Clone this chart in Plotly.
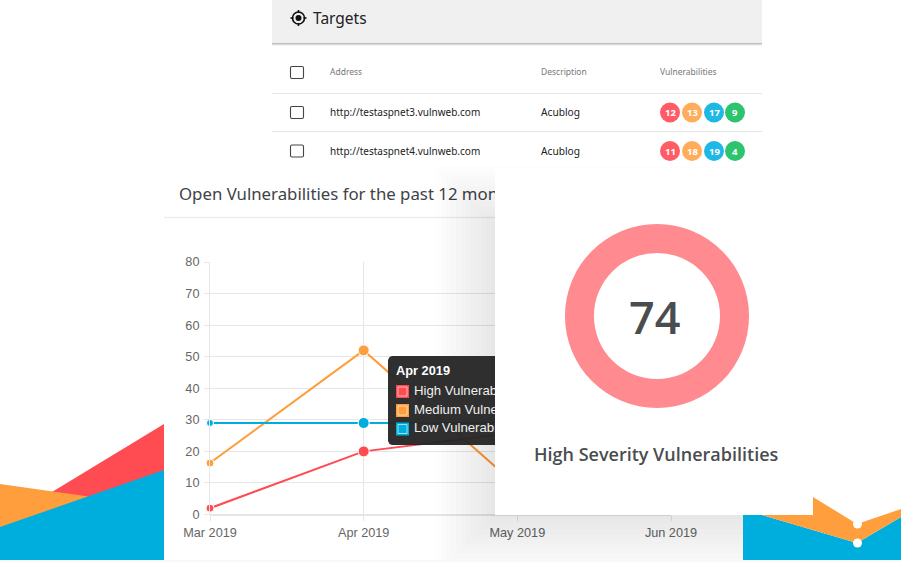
import plotly.graph_objects as go

# chart data
months = ["Mar 2019", "Apr 2019", "May 2019", "Jun 2019"]
high_vuln = [2, 20, 26, 30]
medium_vuln = [16.3, 52, 9, 12]
low_vuln = [29, 29, 29, 29]
severity_count = [74]

# table above the chart
table_headers = ["Address", "Description", "Vulnerabilities"]
row_address = ["http://testaspnet3.vulnweb.com", "http://testaspnet4.vulnweb.com"]
row_description = ["Acublog", "Acublog"]
row_badges = [[12, 13, 17, 9], [11, 18, 19, 4]]

tooltip_title = "Apr 2019"
tooltip_rows = ["High Vulnerabilities", "Medium Vulnerabilities", "Low Vulnerabilities"]

RED = "#ff4b52"
ORANGE = "#ff9e3d"
BLUE = "#00aedd"
BADGE_COLORS = ["#ff5c66", "#ffad5c", "#1fb8e6", "#2dc46e"]
W, H = 901, 562
UI_FONT = "Noto Sans"
CHART_FONT = "Liberation Sans"


def P(x, y):
    # pixel point to paper coordinates, as svg text
    return f"{x / W:.5f},{1 - y / H:.5f}"


def poly(*pts):
    return "M" + " L".join(P(x, y) for x, y in pts) + " Z"


def overlay_poly(xs, ys, color):
    return go.Scatter(x=xs, y=ys, xaxis="x2", yaxis="y2", mode="lines", line=dict(width=0),
                      fill="toself", fillcolor=color, hoverinfo="skip", showlegend=False)


def overlay_fill(x0, y0, x1, y1, color):
    return overlay_poly([x0, x1, x1, x0, x0], [y0, y0, y1, y1, y0], color)


def overlay_text(x, y, text, size, color, font=UI_FONT):
    return go.Scatter(x=[x], y=[y], xaxis="x2", yaxis="y2", mode="text", text=[text],
                      textposition="middle right", textfont=dict(size=size, color=color, family=font),
                      hoverinfo="skip", showlegend=False)


shapes = []
notes = []


def px_path(path, **kw):
    shapes.append(dict(type="path", xref="paper", yref="paper", layer="below", path=path, **kw))


def px_box(kind, x0, y0, x1, y1, **kw):
    shapes.append(dict(type=kind, xref="paper", yref="paper", layer="below", x0=x0 / W, x1=x1 / W,
                       y0=1 - y0 / H, y1=1 - y1 / H, **kw))


def note(x, y, text, size, color, anchor="left", font=UI_FONT, weight=None):
    f = dict(size=size, color=color, family=font)
    if weight:
        f["weight"] = weight
    # annotations carry a small pad on the left
    if anchor == "left":
        x -= 2
    notes.append(dict(xref="x2", yref="y2", x=x, y=y, text=text, showarrow=False, xanchor=anchor,
                      yanchor="middle", font=f))


# background wedges, left side
px_path(poly((52, 492), (164, 424), (164, 500), (52, 520)), fillcolor=RED, line_width=0)
px_path(poly((0, 484), (92, 497), (0, 528)), fillcolor=ORANGE, line_width=0)
px_path(poly((0, 527), (164, 470), (164, 560), (0, 560)), fillcolor=BLUE, line_width=0)
# and right side
px_path(poly((743, 515), (762, 515), (857, 543), (901, 517), (901, 560), (743, 560)), fillcolor=BLUE, line_width=0)
px_path(poly((762, 515), (813, 515), (813, 497), (857, 524), (901, 509), (901, 517), (857, 543)),
        fillcolor=ORANGE, line_width=0)
for cy in [524, 543]:
    px_box("circle", 853, cy - 4.5, 862, cy + 4.5, fillcolor="white", line_width=0)
px_box("rect", 0, 560, W, H, fillcolor="#f4f8fa", line_width=0)

# targets table
px_box("rect", 272, 0, 762, 43, fillcolor="#f0f0f0", line_width=0)
for i, c in enumerate(["#bdbdbd", "#dddddd", "#f3f3f3"]):
    px_box("rect", 272, 43 + i, 762, 44 + i, fillcolor=c, line_width=0)
px_box("circle", 292.5, 12, 304.5, 24, line=dict(color="#111", width=1.6))
px_box("circle", 295.5, 15, 301.5, 21, fillcolor="#111", line_width=0)
for a, b, c, d in [(298.5, 10, 298.5, 13), (298.5, 23, 298.5, 26), (290.5, 18, 293.5, 18), (303.5, 18, 306.5, 18)]:
    px_box("line", a, b, c, d, line=dict(color="#111", width=1.6))
note(313, 18, "Targets", 15.5, "#222")

for hdr, hx in zip(table_headers, [330, 541, 660]):
    note(hx, 71.5, hdr, 8.5, "#777")
row_y = [112.5, 151]
for cy in [72.5] + row_y:
    t, b = cy - 6, cy + 6
    px_path("M{} L{} Q{} {} L{} Q{} {} L{} Q{} {} L{} Q{} {} Z".format(
        P(292, t), P(302, t), P(303.5, t), P(303.5, t + 1.5), P(303.5, b - 1.5), P(303.5, b), P(302, b),
        P(292, b), P(290.5, b), P(290.5, b - 1.5), P(290.5, t + 1.5), P(290.5, t), P(292, t)),
        line=dict(color="#444", width=1.1), fillcolor="white")
for ly in [93.5, 131.5]:
    px_box("line", 272, ly, 762, ly, line=dict(color="#e6e6e6", width=1))
for addr, desc, cy in zip(row_address, row_description, row_y):
    note(330, cy - 0.5, addr, 10, "#222")
    note(541, cy - 0.5, desc, 10.2, "#222")

# chart panel and its title rule
px_box("rect", 164, 165, 743, 560, fillcolor="white", line_width=0)
px_box("line", 164, 217.5, 743, 217.5, line=dict(color="#eeeeee", width=1.5))

fig = go.Figure()

# the line chart, real scales
for vals, name, color, first in [(high_vuln, "High", RED, 8), (medium_vuln, "Medium", ORANGE, 8), (low_vuln, "Low", BLUE, 7)]:
    fig.add_trace(go.Scatter(x=months, y=vals, mode="lines+markers", name=name, cliponaxis=False,
                             line=dict(color=color, width=2),
                             marker=dict(size=[first, 11, first, first], color=color, opacity=1)))

fig.add_trace(overlay_text(179, 196, "Open Vulnerabilities for the past 12 months", 16.8, "#3f4347"))

# shadow around the card, nested see-through rects
for d in range(4, 64, 5):
    fig.add_trace(overlay_fill(495 - d, max(165, 225 - d), 743, min(560, 515 + d), "rgba(0,0,0,0.009)"))

# tooltip
fig.add_trace(overlay_poly([392, 500, 500, 392, 389.5, 388, 388, 389.5, 392],
                           [356, 356, 445, 445, 444, 441, 360, 357, 356], "rgba(38,38,38,0.96)"))
fig.add_trace(overlay_text(396, 372, f"<b>{tooltip_title}</b>", 12.8, "white", CHART_FONT))
for label, color, cy in zip(tooltip_rows, [RED, ORANGE, BLUE], [391.5, 410.5, 429]):
    fig.add_trace(go.Scatter(x=[402.5], y=[cy], xaxis="x2", yaxis="y2", mode="markers", hoverinfo="skip",
                             showlegend=False, marker=dict(symbol="square", size=13, color=color)))
    fig.add_trace(go.Scatter(x=[402.5], y=[cy], xaxis="x2", yaxis="y2", mode="markers", hoverinfo="skip",
                             showlegend=False, marker=dict(symbol="square-open", size=9, color="rgba(255,255,255,0.6)",
                                                           line=dict(width=1, color="rgba(255,255,255,0.6)"))))
    fig.add_trace(overlay_text(414, cy, label, 13.2, "#f0f0f0", CHART_FONT))

# badges
for row, cy in zip(row_badges, row_y):
    for val, color, cx in zip(row, BADGE_COLORS, [670, 692, 714, 735]):
        fig.add_trace(go.Scatter(x=[cx], y=[cy], xaxis="x2", yaxis="y2", mode="markers", hoverinfo="skip",
                                 showlegend=False, marker=dict(size=20, color=color)))
        note(cx, cy, f"<b>{val}</b>", 9.5, "white", anchor="center")

# white card goes over the chart
fig.add_trace(overlay_fill(495, 168, 813, 515, "white"))

# donut
fig.add_trace(go.Pie(values=severity_count, hole=0.685, sort=False, textinfo="none", hoverinfo="skip",
                     marker=dict(colors=["#ff8a8f"], line=dict(width=0)), showlegend=False,
                     domain=dict(x=[565 / W, 749 / W], y=[1 - 408 / H, 1 - 224 / H])))
note(654.5, 316, str(severity_count[0]), 45, "#4a4d50", anchor="center", font="Open Sans", weight=600)
note(656, 454, "High Severity Vulnerabilities", 18, "#4a4d50", anchor="center", font="Open Sans", weight=600)

fig.update_layout(
    width=W, height=H,
    margin=dict(l=0, r=0, t=0, b=0),
    paper_bgcolor="white",
    plot_bgcolor="rgba(0,0,0,0)",
    showlegend=False,
    shapes=shapes,
    annotations=notes,
    xaxis=dict(domain=[210 / W, 671 / W], type="category", categoryorder="array", categoryarray=months,
               range=[0, 3], automargin=False, showgrid=True, gridcolor="#e6e6e6", gridwidth=1, zeroline=False,
               showline=False, ticks="outside", ticklen=5, tickcolor="#e6e6e6", ticklabelstandoff=1,
               tickfont=dict(family=CHART_FONT, size=12.7, color="#666666")),
    yaxis=dict(domain=[1 - 514.5 / H, 1 - 262 / H], range=[0, 80], dtick=10, automargin=False, showgrid=True,
               gridcolor="#e6e6e6", gridwidth=1, zeroline=True, zerolinecolor="#e6e6e6", showline=True,
               linecolor="#e6e6e6", ticks="outside", ticklen=5, tickcolor="#e6e6e6", ticklabelstandoff=2,
               tickfont=dict(family=CHART_FONT, size=12.7, color="#666666")),
    xaxis2=dict(domain=[0, 1], range=[0, W], visible=False, anchor="y2", automargin=False),
    yaxis2=dict(domain=[0, 1], range=[H, 0], visible=False, anchor="x2", automargin=False),
)

fig.write_html("out.html", config=dict(displayModeBar=False),
               post_script="document.body.style.margin='0';document.body.style.overflow='hidden';")
